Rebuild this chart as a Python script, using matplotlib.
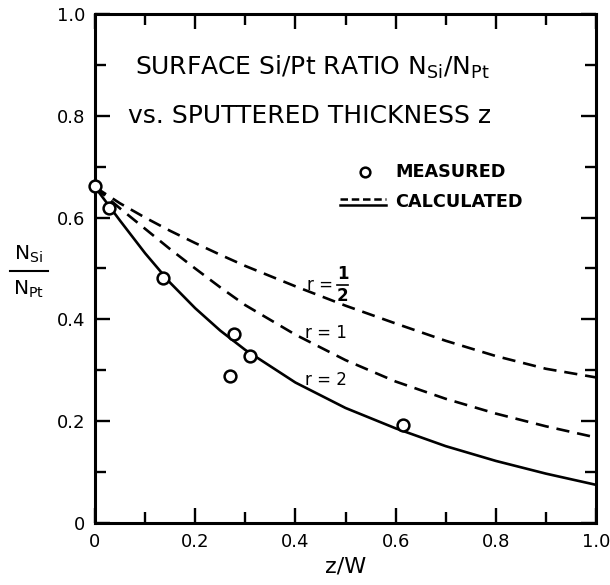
import matplotlib
matplotlib.use("Agg")
import matplotlib.pyplot as plt
from matplotlib.ticker import MultipleLocator, FixedLocator, FixedFormatter

plt.rcParams['font.family'] = ['DejaVu Sans']
plt.rcParams['mathtext.fontset'] = 'dejavusans'

# measured points
meas_x = [0.0, 0.028, 0.135, 0.277, 0.309, 0.269, 0.614]
meas_y = [0.662, 0.619, 0.482, 0.371, 0.328, 0.289, 0.193]

# calculated curves
calc_x = [0.0, 0.05, 0.1, 0.15, 0.2, 0.25, 0.3, 0.4, 0.5, 0.6, 0.7, 0.8, 0.9, 1.0]
r_half = [0.66, 0.628, 0.600, 0.574, 0.550, 0.527, 0.505, 0.465, 0.427, 0.392, 0.358, 0.328, 0.303, 0.286]
r_one = [0.66, 0.618, 0.578, 0.538, 0.500, 0.463, 0.428, 0.370, 0.320, 0.278, 0.244, 0.215, 0.190, 0.168]
r_two = [0.66, 0.594, 0.530, 0.472, 0.422, 0.378, 0.340, 0.276, 0.226, 0.186, 0.151, 0.122, 0.097, 0.075]

xticks = [0, 0.2, 0.4, 0.6, 0.8, 1.0]
xticklabels = ['0', '0.2', '0.4', '0.6', '0.8', '1.0']
yticks = [0, 0.2, 0.4, 0.6, 0.8, 1.0]
yticklabels = ['0', '0.2', '0.4', '0.6', '0.8', '1.0']

fig = plt.figure(figsize=(6.1, 5.85), dpi=100)
ax = fig.add_axes([95/610, 62/585, 501/610, 509/585])

dash = (0, (5, 3))
ax.plot(calc_x, r_half, color='black', lw=1.9, linestyle=dash)
ax.plot(calc_x, r_one, color='black', lw=1.9, linestyle=dash)
ax.plot(calc_x, r_two, color='black', lw=1.9, linestyle='-')
ax.plot(meas_x, meas_y, linestyle='none', marker='o', ms=8.5, mfc='white',
        mec='black', mew=1.8, clip_on=False, zorder=5)

ax.set_xlim(0, 1.0)
ax.set_ylim(0, 1.0)
ax.xaxis.set_major_locator(FixedLocator(xticks))
ax.xaxis.set_major_formatter(FixedFormatter(xticklabels))
ax.yaxis.set_major_locator(FixedLocator(yticks))
ax.yaxis.set_major_formatter(FixedFormatter(yticklabels))
ax.xaxis.set_minor_locator(MultipleLocator(0.1))
ax.yaxis.set_minor_locator(MultipleLocator(0.1))
ax.tick_params(which='both', direction='in', top=True, right=True, width=1.7,
               labelsize=13, pad=7)
ax.tick_params(which='major', length=11)
ax.tick_params(which='minor', length=8)
for s in ax.spines.values():
    s.set_linewidth(2.2)

ax.set_xlabel('z/W', fontsize=16, labelpad=4)

# y label as stacked fraction
fig.text(28/610, 1 - 254/585, r'N$_{\mathrm{Si}}$', fontsize=14.5, ha='center', va='center')
fig.text(28/610, 1 - 289/585, r'N$_{\mathrm{Pt}}$', fontsize=14.5, ha='center', va='center')
fig.add_artist(plt.Line2D([10/610, 48/610], [1 - 271/585, 1 - 271/585], color='black', lw=1.5))

# title text inside axes
ax.text(0.433, 0.895, r'SURFACE Si/Pt RATIO N$_{\mathrm{Si}}$/N$_{\mathrm{Pt}}$',
        fontsize=18, ha='center', va='center')
ax.text(0.429, 0.80, 'vs. SPUTTERED THICKNESS z', fontsize=18, ha='center', va='center')

# legend
ax.plot([0.539], [0.69], linestyle='none', marker='o', ms=7, mfc='white', mec='black', mew=1.8)
ax.text(0.599, 0.69, 'MEASURED', fontsize=12.7, ha='left', va='center', fontweight='bold')
ax.plot([0.49, 0.58], [0.636, 0.636], color='black', lw=1.8, linestyle=(0, (3, 1.5)))
ax.plot([0.49, 0.58], [0.624, 0.624], color='black', lw=1.8)
ax.text(0.599, 0.63, 'CALCULATED', fontsize=12.7, ha='left', va='center', fontweight='bold')

# curve labels
ax.text(0.423, 0.467, 'r =', fontsize=12, ha='left', va='center')
ax.text(0.494, 0.489, '1', fontsize=12, ha='center', va='center', fontweight='bold')
ax.text(0.494, 0.445, '2', fontsize=12, ha='center', va='center', fontweight='bold')
ax.plot([0.484, 0.504], [0.467, 0.467], color='black', lw=1.2)
ax.text(0.419, 0.373, 'r = 1', fontsize=12, ha='left', va='center')
ax.text(0.419, 0.281, 'r = 2', fontsize=12, ha='left', va='center')

fig.savefig('out.png', dpi=100)
